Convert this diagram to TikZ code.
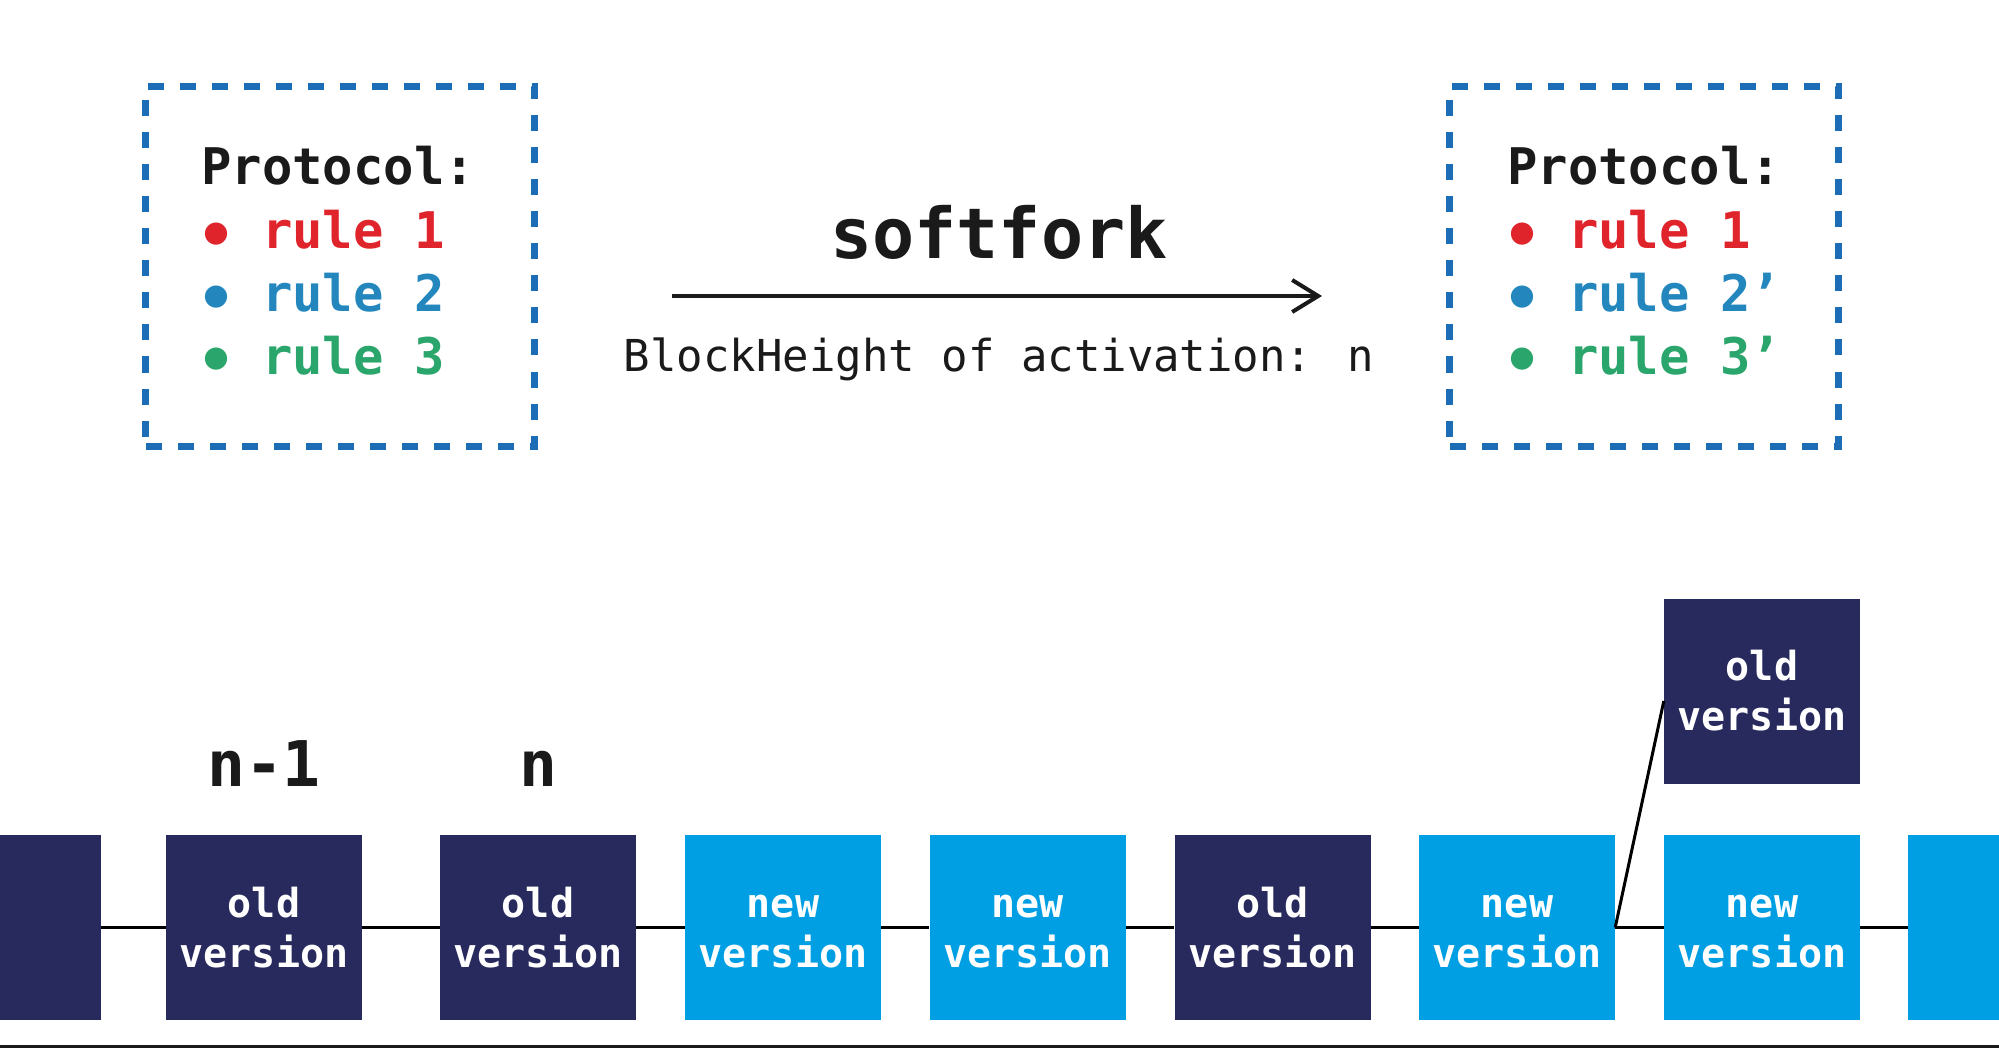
\documentclass[tikz,border=0pt]{standalone}
\usepackage{fontspec}
\newfontfamily\mono{DejaVu Sans Mono}
\usetikzlibrary{arrows.meta,calc}
\definecolor{navy}{HTML}{282A5E}
\definecolor{sky}{HTML}{009FE3}
\definecolor{dashblue}{HTML}{1C6DB6}
\definecolor{rred}{HTML}{E0242B}
\definecolor{rblue}{HTML}{2387BE}
\definecolor{rgreen}{HTML}{2AA56B}
\definecolor{ink}{HTML}{1A1A1A}
\newcommand\bul{\makebox[0.602em]{\raisebox{-0.17em}{\scalebox{1.25}{•}}}}
\newcommand\tl{\vphantom{d}}
\tikzset{
  blk/.style={minimum width=196pt, minimum height=185pt, inner sep=0pt, align=center,
    text=white, font=\mono\bfseries\fontsize{40}{50}\selectfont},
  oldblk/.style={blk, fill=navy},
  newblk/.style={blk, fill=sky},
  dashbox/.style={draw=dashblue, line width=7pt, dash pattern=on 16pt off 16pt,
    minimum width=389pt, minimum height=360pt, inner sep=0pt},
  ptext/.style={anchor=base west, inner sep=0pt, font=\mono\bfseries\fontsize{50.5}{60}\selectfont},
  link/.style={line width=3pt, draw=black},
  heightlbl/.style={anchor=base, inner sep=0pt, text=ink, font=\mono\bfseries\fontsize{63}{70}\selectfont}
}
\begin{document}
\begin{tikzpicture}[x=1pt,y=-1pt]
\useasboundingbox (0,0) rectangle (1999,1048);
\clip (0,0) rectangle (1999,1048);
\fill[white] (0,0) rectangle (1999,1048);

% protocol boxes
\node[dashbox] (oldp) at (340,266.5) {};
\node[dashbox] (newp) at (1644,266.5) {};

\node[ptext, text=ink] (op0) at (201,185) {Protocol:};
\node[ptext, text=rred] (op1) at (201,249) {\bul{} rule 1};
\node[ptext, text=rblue] (op2) at (201,312) {\bul{} rule 2};
\node[ptext, text=rgreen] (op3) at (201,374) {\bul{} rule 3};

\node[ptext, text=ink] (np0) at (1507,185) {Protocol:};
\node[ptext, text=rred] (np1) at (1507,249) {\bul{} rule 1};
\node[ptext, text=rblue] (np2) at (1507,312) {\bul{} rule 2’};
\node[ptext, text=rgreen] (np3) at (1507,374) {\bul{} rule 3’};

% softfork arrow
\node[anchor=base, inner sep=0pt, text=ink, font=\mono\bfseries\fontsize{70}{80}\selectfont] (sf) at (999,259) {softfork};
\coordinate (arrS) at (672,296);
\coordinate (arrE) at (1322,296);
\draw[line width=4pt, draw=ink, -{Straight Barb[length=26pt, width=32pt, line width=4pt]}] (arrS) -- (arrE);
\node[anchor=base, inner sep=0pt, text=ink, font=\mono\fontsize{44}{50}\selectfont] (bh) at (999,371) {BlockHeight of activation: n};

% chain
\node[oldblk] (b0) at (3,927.5) {};
\node[oldblk] (b1) at (264,927.5) {old\\version};
\node[oldblk] (b2) at (538,927.5) {old\\version};
\node[newblk] (b3) at (783,927.5) {\tl new\\version};
\node[newblk] (b4) at (1027.5,927.5) {\tl new\\version};
\node[oldblk] (b5) at (1272.5,927.5) {old\\version};
\node[newblk] (b6) at (1517,927.5) {\tl new\\version};
\node[newblk] (b7) at (1762,927.5) {\tl new\\version};
\node[newblk] (b8) at (2006,927.5) {};
\node[oldblk] (fork) at (1762,691) {old\\version};

\draw[link] (b0.east) -- (b1.west);
\draw[link] (b1.east) -- (b2.west);
\draw[link] (b2.east) -- (b3.west);
\draw[link] (b3.east) -- (b4.west);
\draw[link] (b4.east) -- (b5.west);
\draw[link] (b5.east) -- (b6.west);
\draw[link] (b6.east) -- (b7.west);
\draw[link] (b7.east) -- (b8.west);
\draw[link] (b6.east) -- ($(fork.west)+(0,10)$);

\node[heightlbl] (lnm1) at ([yshift=48pt]b1.north) {n-1};
\node[heightlbl] (ln) at ([yshift=48pt]b2.north) {n};

% bottom rule
\draw[line width=3pt, draw=ink] (0,1046) -- (1999,1046);
\end{tikzpicture}
\end{document}
